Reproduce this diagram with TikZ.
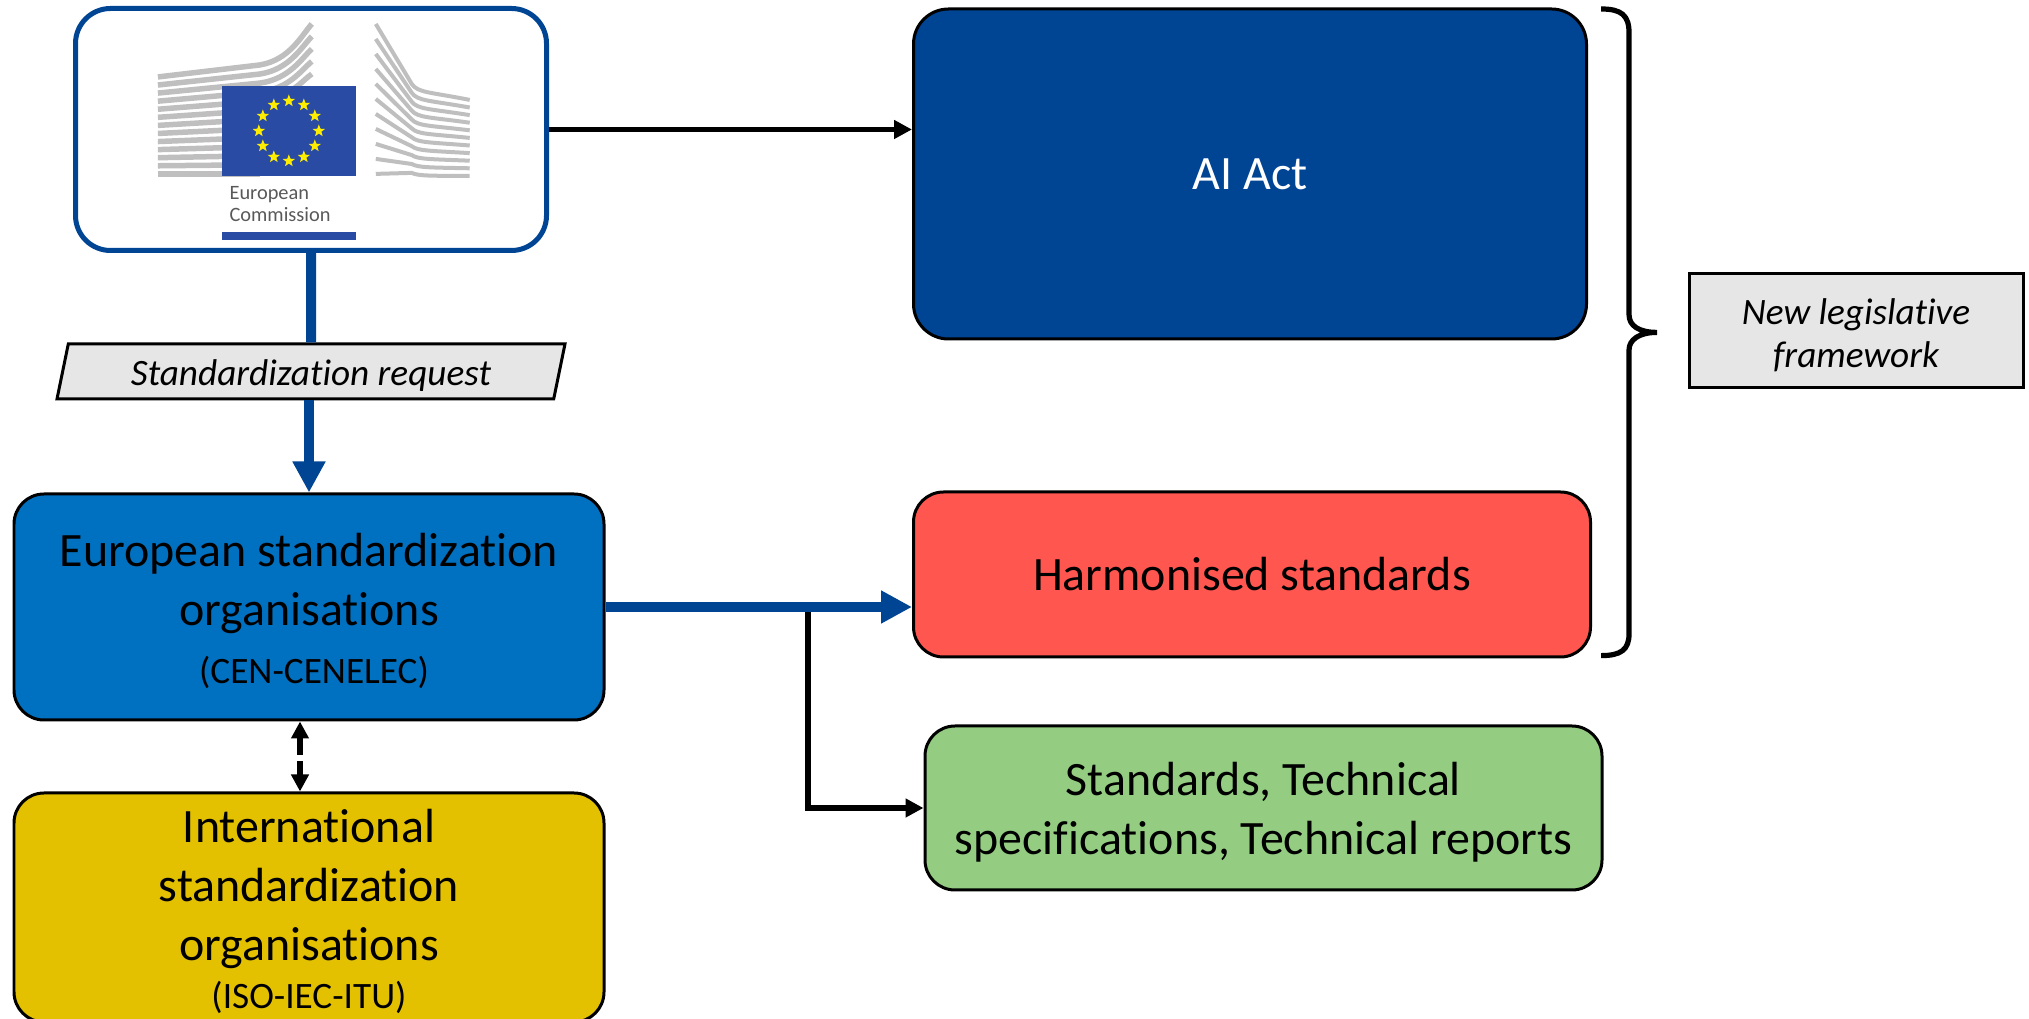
\documentclass[tikz,border=0pt]{standalone}
\usepackage{fontspec}
\setmainfont{Carlito}[Ligatures=NoCommon]
\usetikzlibrary{arrows.meta,shapes.geometric}
\definecolor{ecblue}{HTML}{004494}
\definecolor{esoblue}{HTML}{0070C0}
\definecolor{isoyellow}{HTML}{E3C100}
\definecolor{hasred}{HTML}{FF5650}
\definecolor{othergreen}{HTML}{94CD82}
\definecolor{notegrey}{HTML}{E6E6E6}
\definecolor{flagblue}{HTML}{2A4BA3}
\definecolor{flagyellow}{HTML}{FFED00}
\definecolor{wing}{HTML}{BFBFBF}
\definecolor{logotext}{HTML}{595959}
\begin{document}
\begin{tikzpicture}
			[box/.style={draw=black, line width=.03cm, rounded corners=.3cm, align=center,
				font=\fontsize{13.64}{16.7}\selectfont},
			note/.style={draw=black, line width=.03cm, fill=notegrey, align=center,
				font=\fontsize{10.6}{12.6}\selectfont\itshape},
			bluearrow/.style={ecblue, line width=.1cm, -{Triangle[length=.31cm,width=.31cm]}},
			blackarrow/.style={black, line width=.05cm, -{Triangle[length=.18cm,width=.18cm]}},
			strip/.style={wing, line width=.055cm},
			eustar/.style={star, star points=5, star point ratio=2.4, fill=flagyellow, inner sep=0, minimum size=.13cm}]
	\useasboundingbox (0,0) rectangle (20.29,10.19);

	\node (ec)[box, draw=ecblue, line width=.05cm, rounded corners=.35cm, minimum width=4.71cm, minimum height=2.42cm] at (3.11,8.895) {};
	\node (ai)[box, fill=ecblue, text=white, rounded corners=.35cm, minimum width=6.73cm, minimum height=3.30cm] at (12.50,8.45) {AI Act};
	\node (eso)[box, fill=esoblue, minimum width=5.90cm, minimum height=2.26cm] at (3.09,4.12) {\rule{0pt}{11.8pt}European standardization \\
								organisations \\
								{\fontsize{10.6}{12}\selectfont\hspace{.1cm}(CEN-CENELEC)}};
	\node (iso)[box, fill=isoyellow, inner ysep=0, minimum width=5.90cm, minimum height=2.29cm] at (3.09,1.115) {\rule{0pt}{11.8pt}International \\
								standardization \\
								organisations \\[-3pt]
								{\fontsize{10.6}{12}\selectfont (ISO-IEC-ITU)}};
	\node (has)[box, fill=hasred, minimum width=6.77cm, minimum height=1.65cm] at (12.52,4.445) {Harmonised standards};
	\node (other)[box, fill=othergreen, minimum width=6.77cm, minimum height=1.64cm] at (12.635,2.11) {\rule{0pt}{11.8pt}Standards, Technical \\
								specifications, Technical reports};
	\node (request)[note, trapezium, trapezium left angle=74, trapezium right angle=106, trapezium stretches body,
		minimum width=5.08cm, minimum height=.55cm, inner ysep=0] at (3.11,6.475) {\rule{0pt}{9.5pt}Standardization request};
	\node (nlf)[note, minimum width=3.34cm, minimum height=1.14cm] at (18.56,6.88) {\rule{0pt}{9.9pt}New legislative \\[-.4pt]
								framework};

	\coordinate (branch) at (8.08,4.12);

	\draw[blackarrow] (ec) -- (ec -| ai.west);
	\draw[ecblue, line width=.1cm] (ec.south) -- (request.north);
	\draw[bluearrow] (request.south -| eso.north) -- (eso.north);
	\draw[blackarrow, line width=.06cm] (branch) |- (other.west);
	\draw[bluearrow] (eso.east) -- (eso.east -| has.west);
	\draw[black, line width=.06cm, {Triangle[length=.17cm,width=.17cm]}-{Triangle[length=.17cm,width=.17cm]}, dash pattern=on .18cm off .06cm]
		([xshift=-.09cm]eso.south) -- ([xshift=-.09cm]iso.north);

	\begin{scope}[shift={(0,10.19)}, x=.01cm, y=-.01cm]
		\coordinate (bracetop) at (1602,9);
		\coordinate (bracetip) at (1658,332.6);
		\coordinate (bracebot) at (1602,656);
		\draw[black, line width=.052cm] (bracetop) .. controls (1622,9) and (1630,15) .. (1630,33) -- (1630,315)
			.. controls (1630,326) and (1640,332.6) .. (bracetip) .. controls (1640,332.6) and (1630,340) .. (1630,350)
			-- (1630,634) .. controls (1630,650) and (1622,656) .. (bracebot);

		\foreach \i in {0,...,4}
			\draw[strip] (158,{77+8.08*\i}) -- (260,{65+9.08*\i}) .. controls (290,{60+9.5*\i}) and (302,{35+11.5*\i}) .. (312,{24+12.5*\i});
		\foreach \i in {5,...,12}
			\draw[strip] (158,{77+8.08*\i}) -- (260,{65+9.08*\i});
		\foreach \i in {0,...,10}
			\draw[strip, line width=.04cm] (376,{24+15*\i}) -- (412,{84+8.9*\i}) .. controls (418,{93+8.3*\i}) and (430,{92+8.4*\i}) .. (470,{100+7.6*\i});
		\node (flag)[fill=flagblue, inner sep=0, minimum width=1.34cm, minimum height=.90cm] at (289,131) {};
		\foreach \a in {0,30,...,330}
			\node (star\a)[eustar] at ([shift={(\a:.30cm)}]flag.center) {};
		\node (logoname)[text=logotext, align=left, anchor=north west, inner sep=0,
			font=\fontsize{5.8}{6.3}\selectfont] at (229,186) {European \\
								Commission};
		\node (logobar)[fill=flagblue, inner sep=0, minimum width=1.34cm, minimum height=.08cm] at (289,236) {};
	\end{scope}
\end{tikzpicture}
\end{document}
